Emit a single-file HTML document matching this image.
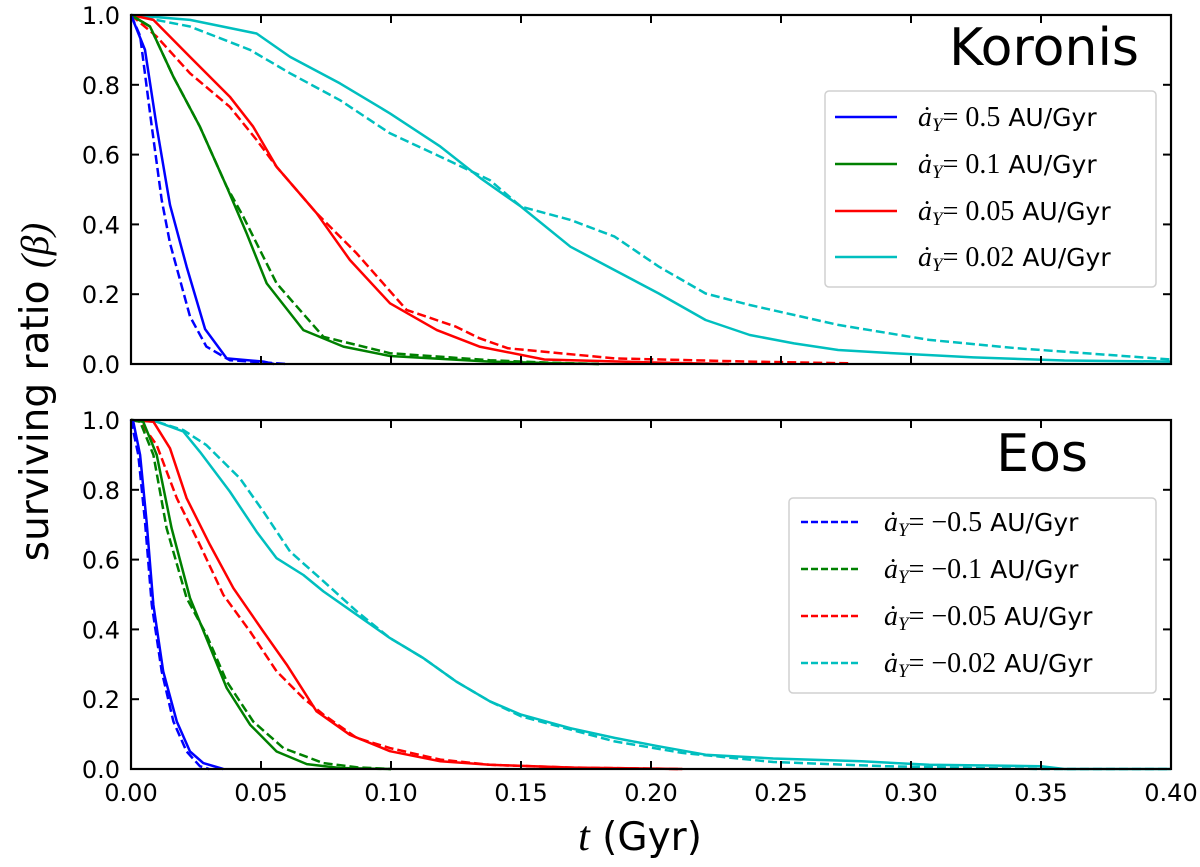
<!DOCTYPE html>
<html><head><meta charset="utf-8"><style>
html,body{margin:0;padding:0;background:#fff;}
svg{display:block;font-family:"DejaVu Sans","Liberation Sans",sans-serif;}
</style></head><body>
<svg id="chart" width="1200" height="867" viewBox="0 0 1200 867" xmlns="http://www.w3.org/2000/svg">
<g id="plots"></g>
<g id="frame"></g>
<text transform="translate(48,392) rotate(-90)" text-anchor="middle" font-size="39">surviving ratio <tspan font-family="Liberation Serif,serif" font-style="italic">(β)</tspan></text>
<text x="640" y="850" text-anchor="middle" font-size="39"><tspan font-family="Liberation Serif,serif" font-style="italic" font-size="42">t</tspan> (Gyr)</text>
<text x="1139" y="65" text-anchor="end" font-size="52">Koronis</text>
<text x="1088" y="471" text-anchor="end" font-size="52">Eos</text>
</svg>
<script>
// ---- data (t in Gyr, beta) ----
const tickX = [0,0.05,0.10,0.15,0.20,0.25,0.30,0.35,0.40];
const tickXLabels = ["0.00","0.05","0.10","0.15","0.20","0.25","0.30","0.35","0.40"];
const tickY = [0,0.2,0.4,0.6,0.8,1.0];
const tickYLabels = ["0.0","0.2","0.4","0.6","0.8","1.0"];

const korBlueSolidT = [0,0.0054,0.0099,0.015,0.0214,0.0285,0.0368,0.051,0.055];
const korBlueSolidB = [1,0.9,0.68,0.456,0.279,0.10,0.016,0.007,0];
const korBlueDashT = [0,0.0035,0.008,0.0118,0.015,0.0227,0.029,0.038,0.06];
const korBlueDashB = [1,0.94,0.68,0.47,0.346,0.136,0.05,0.011,0];
const korGreenSolidT = [0,0.0073,0.0163,0.0265,0.0368,0.0445,0.0522,0.0663,0.0817,0.0996,0.138,0.16,0.18];
const korGreenSolidB = [1,0.967,0.823,0.68,0.508,0.374,0.231,0.097,0.05,0.023,0.007,0.003,0];
const korGreenDashT = [0,0.0073,0.0163,0.0265,0.0368,0.0432,0.056,0.074,0.0996,0.138,0.16,0.18];
const korGreenDashB = [1,0.967,0.823,0.68,0.508,0.422,0.231,0.078,0.031,0.011,0.004,0];
const korRedSolidT = [0,0.0086,0.0227,0.038,0.047,0.056,0.0714,0.0842,0.0996,0.1176,0.134,0.159,0.203,0.23];
const korRedSolidB = [1,0.986,0.88,0.766,0.68,0.565,0.432,0.298,0.174,0.097,0.05,0.013,0.004,0];
const korRedDashT = [0,0.0099,0.0227,0.038,0.0483,0.056,0.0714,0.0868,0.106,0.125,0.134,0.145,0.186,0.238,0.276];
const korRedDashB = [1,0.938,0.833,0.737,0.642,0.565,0.432,0.317,0.155,0.107,0.074,0.045,0.016,0.007,0.002];
const korCyanSolidT = [0,0.0227,0.0483,0.0612,0.0804,0.0996,0.119,0.1345,0.15,0.169,0.186,0.203,0.221,0.238,0.255,0.272,0.29,0.324,0.359,0.40];
const korCyanSolidB = [1,0.986,0.947,0.88,0.804,0.718,0.623,0.532,0.451,0.336,0.269,0.202,0.126,0.083,0.059,0.04,0.032,0.019,0.01,0.007];
const korCyanDashT = [0,0.0227,0.0458,0.0612,0.0804,0.0996,0.119,0.138,0.15,0.169,0.186,0.203,0.221,0.238,0.272,0.307,0.341,0.376,0.40];
const korCyanDashB = [1,0.967,0.9,0.833,0.756,0.661,0.594,0.527,0.451,0.413,0.365,0.279,0.202,0.169,0.112,0.069,0.045,0.026,0.013];

const eosBlueSolidT = [0,0.0009,0.0035,0.006,0.0086,0.0124,0.0176,0.0227,0.0278,0.0355];
const eosBlueSolidB = [1,0.995,0.9,0.709,0.47,0.28,0.136,0.05,0.017,0];
const eosBlueDashT = [0,0.0028,0.0054,0.008,0.0118,0.0163,0.0214,0.0265,0.03];
const eosBlueDashB = [1,0.9,0.709,0.47,0.28,0.136,0.05,0.008,0];
const eosGreenSolidT = [0,0.0047,0.0099,0.0156,0.0227,0.029,0.0368,0.0458,0.056,0.0676,0.0804,0.1];
const eosGreenSolidB = [1,0.995,0.9,0.69,0.49,0.375,0.232,0.127,0.05,0.014,0.003,0];
const eosGreenDashT = [0,0.0035,0.0086,0.0137,0.0214,0.029,0.0368,0.047,0.0586,0.074,0.0868,0.1];
const eosGreenDashB = [1,0.995,0.9,0.69,0.49,0.385,0.251,0.136,0.06,0.017,0.005,0];
const eosRedSolidT = [0,0.0086,0.015,0.0214,0.0304,0.0394,0.0509,0.0599,0.0714,0.0842,0.0996,0.119,0.138,0.17,0.212];
const eosRedSolidB = [1,0.995,0.919,0.776,0.642,0.518,0.394,0.299,0.165,0.098,0.051,0.022,0.012,0.004,0];
const eosRedDashT = [0,0.0035,0.0099,0.0176,0.0265,0.0355,0.0458,0.056,0.0663,0.074,0.0868,0.0996,0.119,0.138,0.17,0.212];
const eosRedDashB = [1,0.995,0.928,0.776,0.642,0.499,0.394,0.28,0.203,0.156,0.089,0.06,0.027,0.012,0.004,0];
const eosCyanSolidT = [0,0.0099,0.0201,0.0265,0.038,0.0483,0.056,0.0663,0.074,0.0868,0.0996,0.1124,0.125,0.138,0.15,0.169,0.186,0.203,0.221,0.247,0.281,0.307,0.35,0.359,0.40];
const eosCyanSolidB = [1,0.995,0.967,0.909,0.795,0.68,0.604,0.556,0.509,0.442,0.375,0.318,0.251,0.194,0.156,0.117,0.089,0.065,0.041,0.03,0.022,0.012,0.008,0,0];
const eosCyanDashT = [0,0.0099,0.0201,0.029,0.0419,0.0509,0.0612,0.074,0.0868,0.0996,0.1124,0.125,0.138,0.15,0.186,0.212,0.247,0.29,0.324,0.35,0.40];
const eosCyanDashB = [1,0.995,0.971,0.928,0.833,0.738,0.623,0.538,0.452,0.375,0.318,0.251,0.194,0.151,0.079,0.046,0.02,0.008,0.003,0,0];

const korLegendLabels = ["0.5","0.1","0.05","0.02"];
const eosLegendLabels = ["\u22120.5","\u22120.1","\u22120.05","\u22120.02"];

// ---- layout ----
const NS = "http://www.w3.org/2000/svg";
const X0 = 131, X1 = 1171;
const panels = [{top:15,bot:364,name:"koronis"},{top:420,bot:769,name:"eos"}];
function xScale(t){ return X0 + (t/0.40)*(X1-X0); }
function yScale(p,b){ return p.bot - b*(p.bot-p.top); }
function mk(tag, attrs, parent){
  const el = document.createElementNS(NS, tag);
  for (const k in attrs) el.setAttribute(k, attrs[k]);
  parent.appendChild(el);
  return el;
}
const plots = document.getElementById('plots');
const frame = document.getElementById('frame');
const colors = {blue:"#0000ff",green:"#008000",red:"#ff0000",cyan:"#00bfbf"};

function drawLine(p, ts, bs, color, dashed, name){
  let d = "";
  for (let i=0;i<ts.length;i++){
    d += (i?"L":"M") + xScale(ts[i]).toFixed(1) + "," + yScale(p,bs[i]).toFixed(1);
  }
  const el = mk('path',{d:d,fill:"none",stroke:color,"stroke-width":2.5,"stroke-linejoin":"round"},plots);
  if (dashed) el.setAttribute('stroke-dasharray','9,4');
  
  
}
const p0 = panels[0], p1 = panels[1];
drawLine(p0,korCyanSolidT,korCyanSolidB,colors.cyan,false,'koronis-cyan-solid-line');
drawLine(p0,korCyanDashT,korCyanDashB,colors.cyan,true,'koronis-cyan-dashed-line');
drawLine(p0,korRedSolidT,korRedSolidB,colors.red,false,'koronis-red-solid-line');
drawLine(p0,korRedDashT,korRedDashB,colors.red,true,'koronis-red-dashed-line');
drawLine(p0,korGreenSolidT,korGreenSolidB,colors.green,false,'koronis-green-solid-line');
drawLine(p0,korGreenDashT,korGreenDashB,colors.green,true,'koronis-green-dashed-line');
drawLine(p0,korBlueSolidT,korBlueSolidB,colors.blue,false,'koronis-blue-solid-line');
drawLine(p0,korBlueDashT,korBlueDashB,colors.blue,true,'koronis-blue-dashed-line');
drawLine(p1,eosCyanSolidT,eosCyanSolidB,colors.cyan,false,'eos-cyan-solid-line');
drawLine(p1,eosCyanDashT,eosCyanDashB,colors.cyan,true,'eos-cyan-dashed-line');
drawLine(p1,eosRedSolidT,eosRedSolidB,colors.red,false,'eos-red-solid-line');
drawLine(p1,eosRedDashT,eosRedDashB,colors.red,true,'eos-red-dashed-line');
drawLine(p1,eosGreenSolidT,eosGreenSolidB,colors.green,false,'eos-green-solid-line');
drawLine(p1,eosGreenDashT,eosGreenDashB,colors.green,true,'eos-green-dashed-line');
drawLine(p1,eosBlueSolidT,eosBlueSolidB,colors.blue,false,'eos-blue-solid-line');
drawLine(p1,eosBlueDashT,eosBlueDashB,colors.blue,true,'eos-blue-dashed-line');

// frames & ticks
panels.forEach((p,pi)=>{
  const r = mk('rect',{x:X0,y:p.top,width:X1-X0,height:p.bot-p.top,fill:"none",stroke:"#000","stroke-width":2.2},frame);
  
  
  tickX.forEach((t,i)=>{
    const x = xScale(t);
    mk('line',{x1:x,y1:p.bot,x2:x,y2:p.bot-8,stroke:"#000","stroke-width":2},frame);
    mk('line',{x1:x,y1:p.top,x2:x,y2:p.top+8,stroke:"#000","stroke-width":2},frame);
    if (pi===1){
      const tx = mk('text',{x:x,y:801,"text-anchor":"middle","font-size":24},frame);
      tx.textContent = tickXLabels[i];
      
      
    }
  });
  tickY.forEach((b,i)=>{
    const y = yScale(p,b);
    mk('line',{x1:X0,y1:y,x2:X0+8,y2:y,stroke:"#000","stroke-width":2},frame);
    mk('line',{x1:X1,y1:y,x2:X1-8,y2:y,stroke:"#000","stroke-width":2},frame);
    const ty = mk('text',{x:120,y:y+9,"text-anchor":"end","font-size":24},frame);
    ty.textContent = tickYLabels[i];
    
    
  });
});

// legends
function legend(bx,by,bw,bh,lx1,lx2,tx,ys,labels,dashed,name){
  const g = mk('g',{},frame);
  
  
  mk('rect',{x:bx,y:by,width:bw,height:bh,rx:4,fill:"#fff","fill-opacity":0.85,stroke:"#d0d0d0","stroke-width":1.5},g);
  const cs = [colors.blue,colors.green,colors.red,colors.cyan];
  labels.forEach((lab,i)=>{
    const ln = mk('line',{x1:lx1,y1:ys[i],x2:lx2,y2:ys[i],stroke:cs[i],"stroke-width":2.6},g);
    if (dashed) ln.setAttribute('stroke-dasharray','7,3');
    const t = mk('text',{x:tx,y:ys[i]+9,"font-size":25},g);
    
    
    t.innerHTML = '<tspan font-family="Liberation Serif,serif" font-style="italic" font-size="28">ȧ</tspan><tspan font-family="Liberation Serif,serif" font-style="italic" font-size="19" dy="5">Y</tspan><tspan font-family="Liberation Serif,serif" font-size="28" dy="-5">= '+lab+'</tspan> AU/Gyr';
  });
}
legend(825,91,331,196,835,897,918,[117,164,211,257],korLegendLabels,false,'koronis-legend');
legend(789,498,367,195,801,861,884,[522,569,616,663],eosLegendLabels,true,'eos-legend');
</script>
</body></html>
